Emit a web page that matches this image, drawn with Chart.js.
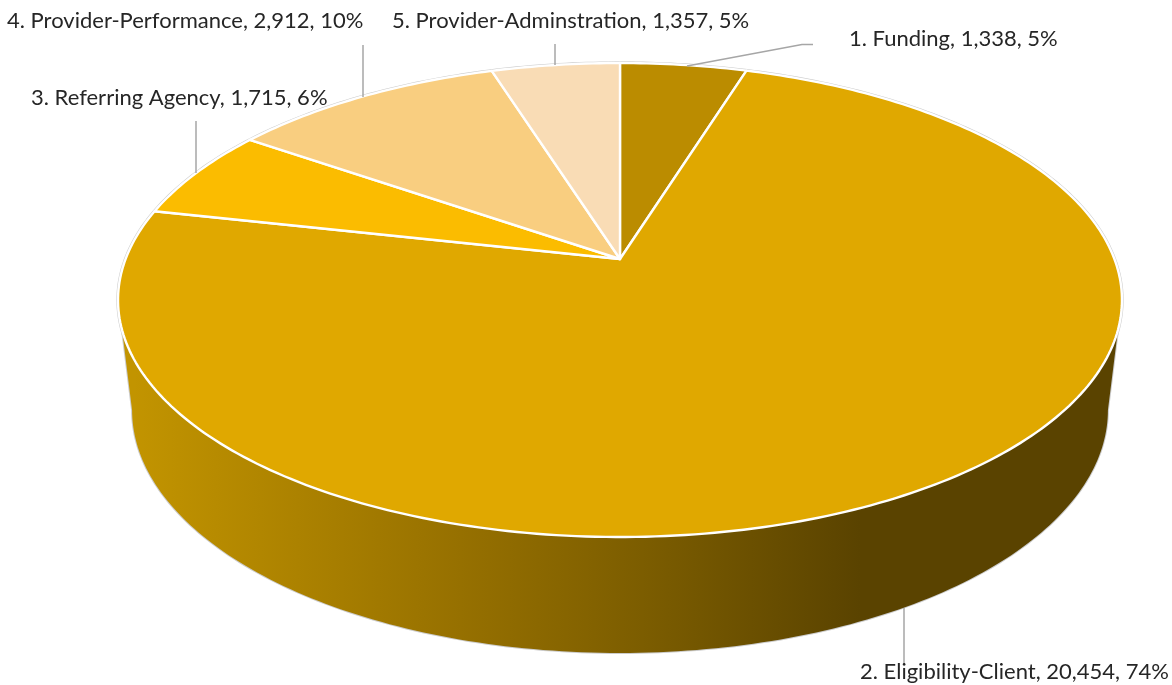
<!DOCTYPE html>
<html>
<head>
<meta charset="utf-8">
<title>Pie chart</title>
<style>
  html, body { margin: 0; padding: 0; background: #fff; }
  canvas { display: block; }
</style>
<script src="https://cdn.jsdelivr.net/npm/chart.js@4"></script>
</head>
<body>
<canvas id="chart" width="1172" height="685"></canvas>
<script>
const categories = ['1. Funding', '2. Eligibility-Client', '3. Referring Agency', '4. Provider-Performance', '5. Provider-Adminstration'];
const counts = [1338, 20454, 1715, 2912, 1357];
const percents = [5, 74, 6, 10, 5];
const sliceColors = ['#bb8c00', '#e0a800', '#fbbc00', '#f9ce80', '#f9dcb5'];

// where the text sits and how its leader runs, same order as categories
const labelSpots = [
    { x: 849, y: 46, leader: [[687, 66], [802, 44.5], [813, 44.5]] },
    { x: 860, y: 679, leader: [[904, 608], [904, 664]] },
    { x: 31, y: 105, leader: [[196, 121], [196, 173]] },
    { x: 7, y: 28, leader: [[363, 45], [363, 97]] },
    { x: 392, y: 28, leader: [[555, 44], [555, 65]] }
];

// tilted disc: centre of the pie, half sizes and perspective strength
const disc = { cx: 620, cy: 259, a: 494.4, b: 229.9, k: 0.173 };
const lid = { sx: 1, sy: 1, drop: 0 };
const base = { sx: 0.972, sy: 1.025, drop: 109 };

function project(angle, level) {
    const u = Math.cos(angle), v = Math.sin(angle);
    const w = 1 - disc.k * v;
    return [disc.cx + level.sx * disc.a * u / w, disc.cy + level.drop + level.sy * disc.b * v / w];
}

function traceRim(ctx, from, to, level) {
    const steps = Math.max(2, Math.ceil(Math.abs(to - from) * 60));
    for (let i = 0; i <= steps; i++) {
        const p = project(from + (to - from) * i / steps, level);
        ctx.lineTo(p[0], p[1]);
    }
}

const deg = Math.PI / 180;

const pie3d = {
    id: 'pie3d',
    // replaces the flat arcs, angles still come from the library's elements
    beforeDatasetDraw(chart, args) {
        const ctx = chart.ctx;
        const arcs = chart.getDatasetMeta(args.index).data;
        ctx.save();
        ctx.lineJoin = 'round';

        // faint outline round the lid
        ctx.beginPath();
        traceRim(ctx, 0, Math.PI * 2, lid);
        ctx.closePath();
        ctx.strokeStyle = '#cccccc';
        ctx.lineWidth = 3.4;
        ctx.stroke();

        // side wall
        const shade = ctx.createLinearGradient(134, 0, 860, 0);
        shade.addColorStop(0, '#c29400');
        shade.addColorStop(0.45, '#967000');
        shade.addColorStop(0.7, '#7c5d00');
        shade.addColorStop(1, '#5a4300');
        ctx.beginPath();
        traceRim(ctx, 17 * deg, 163 * deg, lid);
        traceRim(ctx, 170 * deg, 10 * deg, base);
        ctx.closePath();
        ctx.strokeStyle = '#cccccc';
        ctx.lineWidth = 2;
        ctx.stroke();
        ctx.fillStyle = shade;
        ctx.fill();

        // slices
        arcs.forEach(arc => {
            ctx.beginPath();
            ctx.moveTo(disc.cx, disc.cy);
            traceRim(ctx, arc.startAngle, arc.endAngle, lid);
            ctx.closePath();
            ctx.fillStyle = arc.options.backgroundColor;
            ctx.fill();
            ctx.strokeStyle = '#ffffff';
            ctx.lineWidth = 2.4;
            ctx.stroke();
        });
        ctx.restore();
        return false;
    },
    afterDatasetsDraw(chart) {
        const ctx = chart.ctx;
        ctx.save();
        ctx.strokeStyle = '#a6a6a6';
        ctx.lineWidth = 1.5;
        labelSpots.forEach(spot => {
            ctx.beginPath();
            spot.leader.forEach((p, i) => i ? ctx.lineTo(p[0], p[1]) : ctx.moveTo(p[0], p[1]));
            ctx.stroke();
        });
        ctx.font = '22px Lato';
        ctx.fillStyle = '#262626';
        ctx.textBaseline = 'alphabetic';
        categories.forEach((name, i) => {
            const text = `${name}, ${counts[i].toLocaleString('en-US')}, ${percents[i]}%`;
            ctx.fillText(text, labelSpots[i].x, labelSpots[i].y);
        });
        ctx.restore();
    }
};

new Chart(document.getElementById('chart'), {
    type: 'pie',
    data: {
        labels: categories,
        datasets: [{ data: counts, backgroundColor: sliceColors }]
    },
    options: {
        responsive: false,
        animation: false,
        plugins: { legend: { display: false }, tooltip: { enabled: false } }
    },
    plugins: [pie3d]
});
</script>
</body>
</html>
